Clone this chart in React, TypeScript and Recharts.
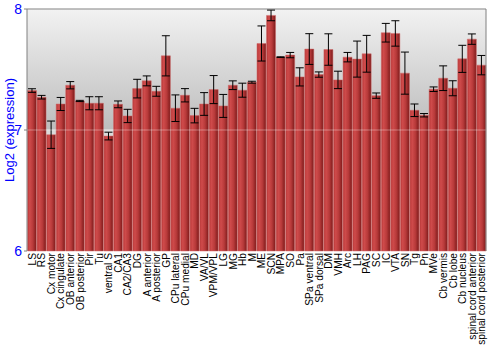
import { Bar, BarChart, CartesianGrid, ErrorBar, ReferenceLine, XAxis, YAxis } from "recharts";

const regions = [
  "LS", "RS", "Cx motor", "Cx cingulate", "OB anterior", "OB posterior", "Pir", "Tu",
  "ventral S", "CA1", "CA2/CA3", "DG", "A anterior", "A posterior", "GP", "CPu lateral",
  "CPu medial", "MD", "VA/VL", "VPM/VPL", "LG", "MG", "Hb", "M", "ME", "SCN", "MPA", "SO",
  "Pa", "SPa ventral", "SPa dorsal", "DM", "VMH", "Arc", "LH", "PAG", "SC", "IC", "VTA", "SN",
  "Tg", "Pn", "MVe", "Cb vermis", "Cb lobe", "Cb nucleus", "spinal cord anterior",
  "spinal cord posterior",
];

const expression = [
  7.326, 7.271, 6.961, 7.215, 7.37, 7.24, 7.221, 7.221, 6.95, 7.212, 7.116, 7.342,
  7.406, 7.32, 7.613, 7.18, 7.287, 7.119, 7.215, 7.334, 7.199, 7.37, 7.329, 7.395,
  7.715, 7.947, 7.602, 7.619, 7.439, 7.669, 7.458, 7.665, 7.414, 7.602, 7.586, 7.63,
  7.284, 7.804, 7.798, 7.47, 7.163, 7.122, 7.337, 7.428, 7.345, 7.588, 7.751, 7.536,
];

const errors = [
  0.015, 0.015, 0.113, 0.054, 0.03, 0.005, 0.054, 0.054, 0.032, 0.028, 0.055, 0.077,
  0.041, 0.041, 0.166, 0.11, 0.055, 0.06, 0.094, 0.116, 0.095, 0.036, 0.058, 0.008,
  0.145, 0.044, 0.003, 0.022, 0.075, 0.127, 0.022, 0.13, 0.072, 0.039, 0.149, 0.152,
  0.022, 0.077, 0.105, 0.174, 0.052, 0.014, 0.019, 0.102, 0.062, 0.112, 0.043, 0.08,
];

const yTicks = [6, 7, 8];

const data = regions.map((name, i) => ({ name, value: expression[i], err: errors[i] }));

const font = "'Liberation Sans', Arial, sans-serif";

function RegionTick({ x, y, payload }: any) {
  return (
    <text
      transform={`translate(${x} ${y}) rotate(-90)`}
      x={0}
      y={0}
      dy={4}
      textAnchor="end"
      fontSize={10.2}
      fontFamily={font}
      fill="#000"
    >
      {payload.value}
    </text>
  );
}

function YLabel() {
  return (
    <text
      x={14}
      y={130}
      transform="rotate(-90 14 130)"
      textAnchor="middle"
      fontSize={13}
      fontFamily={font}
      fill="#0000ff"
    >
      Log2 (expression)
    </text>
  );
}

export default function App() {
  return (
    <div style={{ position: "absolute", left: 0, top: 0 }}>
      <BarChart
        width={500}
        height={350}
        data={data}
        margin={{ top: 9, right: 0, bottom: 2, left: 0 }}
        barCategoryGap="5%"
      >
        <defs>
          <linearGradient id="bg" x1="0" y1="0" x2="0" y2="1">
            <stop offset="0%" stopColor="#f2f2f2" />
            <stop offset="49.5%" stopColor="#bdbdbd" />
            <stop offset="50%" stopColor="#dadada" />
            <stop offset="100%" stopColor="#eeeeee" />
          </linearGradient>
          <linearGradient id="barFill" x1="0" y1="0" x2="1" y2="0">
            <stop offset="0%" stopColor="#b83636" />
            <stop offset="25%" stopColor="#cf4b4b" />
            <stop offset="60%" stopColor="#b83a3a" />
            <stop offset="100%" stopColor="#7c1a1a" />
          </linearGradient>
        </defs>
        <CartesianGrid vertical={false} stroke="#ffffff" fill="url(#bg)" fillOpacity={1} />
        <XAxis
          dataKey="name"
          interval={0}
          tickLine={false}
          axisLine={false}
          tickSize={0}
          tickMargin={2}
          height={97}
          tick={<RegionTick />}
        />
        <YAxis
          yAxisId="left"
          domain={[6, 8]}
          ticks={yTicks}
          width={27}
          tickSize={3}
          stroke="#808080"
          tick={{ fill: "#0000ff", fontSize: 14, fontFamily: font }}
          label={<YLabel />}
        />
        <YAxis
          yAxisId="right"
          orientation="right"
          domain={[6, 8]}
          ticks={yTicks}
          width={14}
          tickSize={4}
          tickMargin={1}
          stroke="#808080"
          tick={{ fill: "#0000ff", fontSize: 14, fontFamily: font }}
        />
        <ReferenceLine yAxisId="left" y={8} stroke="#808080" />
        <Bar
          yAxisId="left"
          dataKey="value"
          fill="url(#barFill)"
          stroke="#d06a6a"
          strokeWidth={0.5}
          isAnimationActive={false}
        >
          <ErrorBar dataKey="err" width={4} stroke="#000" strokeWidth={1} direction="y" />
        </Bar>
        <ReferenceLine yAxisId="left" y={7} stroke="#ffffff" strokeOpacity={0.35} />
      </BarChart>
    </div>
  );
}
